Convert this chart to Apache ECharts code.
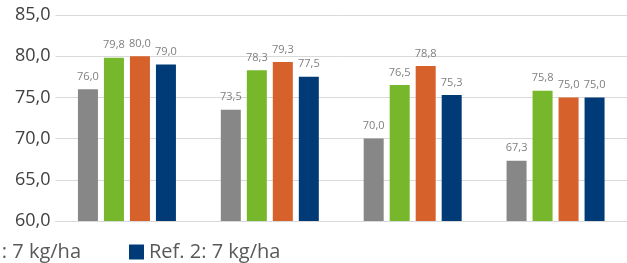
<!DOCTYPE html>
<html>
<head>
<meta charset="utf-8">
<script src="https://cdn.jsdelivr.net/npm/echarts@6/dist/echarts.min.js"></script>
<style>
html,body{margin:0;padding:0;background:#fff;}
#chart{width:627px;height:263px;}
</style>
</head>
<body>
<div id="chart"></div>
<script>
var categories = ['1', '2', '3', '4'];
var seriesNames = ['Kontrolle', 'Variante', 'Ref. 1: 7 kg/ha', 'Ref. 2: 7 kg/ha'];
var grayValues = [76.0, 73.5, 70.0, 67.3];
var greenValues = [79.8, 78.3, 76.5, 75.8];
var orangeValues = [80.0, 79.3, 78.8, 75.0];
var navyValues = [79.0, 77.5, 75.3, 75.0];
var colors = ['#878787', '#76b72c', '#d6612a', '#003b77'];

var FONT = 'Open Sans';
function fmt(v){ return v.toFixed(1).replace('.', ','); }

var valueLists = [grayValues, greenValues, orangeValues, navyValues];
var series = valueLists.map(function(vals, i){
  return {
    name: seriesNames[i],
    type: 'bar',
    data: vals,
    barWidth: 20,
    barGap: '30%',
    itemStyle: {color: colors[i]},
    label: {
      show: true,
      position: 'top',
      distance: 7,
      color: '#7f7f7f',
      fontSize: 11,
      fontFamily: FONT,
      formatter: function(p){ return fmt(p.value); }
    }
  };
});

var legendText = {fontFamily: FONT, fontSize: 20, color: '#595959'};
var chart = echarts.init(document.getElementById('chart'), null, {renderer: 'canvas'});
chart.setOption({
  animation: false,
  color: colors,
  grid: {left: 55.5, right: 0, top: 15, bottom: 42, containLabel: false},
  legend: [
    {
      data: [seriesNames[2]],
      right: 546, top: 242,
      itemWidth: 15, itemHeight: 15,
      icon: 'rect',
      textStyle: legendText,
      padding: 0
    },
    {
      data: [seriesNames[3]],
      left: 129, top: 242,
      itemWidth: 15, itemHeight: 15,
      icon: 'rect',
      textStyle: legendText,
      padding: 0
    }
  ],
  xAxis: {
    type: 'category',
    data: categories,
    axisLine: {show: true, lineStyle: {color: '#d9d9d9', width: 1}},
    axisTick: {show: false},
    axisLabel: {show: false}
  },
  yAxis: {
    type: 'value',
    min: 60, max: 85, interval: 5,
    axisLine: {show: false},
    axisTick: {show: false},
    splitLine: {lineStyle: {color: '#d9d9d9', width: 1}},
    axisLabel: {
      margin: 5,
      color: '#404040',
      fontSize: 18,
      fontFamily: FONT,
      formatter: function(v){ return fmt(v); }
    }
  },
  series: series
});
</script>
</body>
</html>
